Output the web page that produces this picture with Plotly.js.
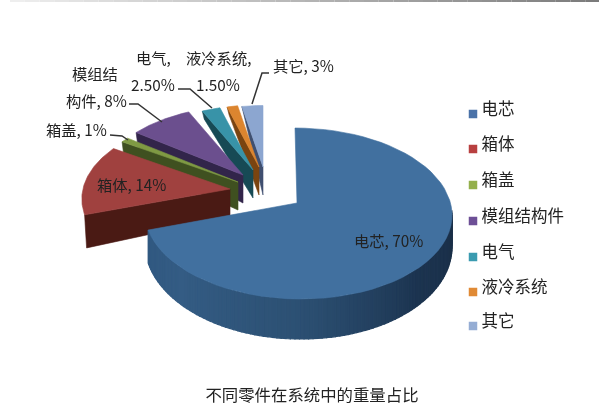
<!DOCTYPE html>
<html><head><meta charset="utf-8">
<script src="https://cdn.plot.ly/plotly-3.0.1.min.js"></script>
<style>html,body{margin:0;padding:0;background:#fff;overflow:hidden}#c{width:599px;height:417px;filter:blur(0.45px)}</style>
</head><body><div id="c"></div>
<script>
// data
const categories = ['电芯','箱体','箱盖','模组结构件','电气','液冷系统','其它'];
const shares = [70,14,1,8,2.5,1.5,3];
const chartTitle = '不同零件在系统中的重量占比';
// styles
const topColors  = ['#41709f','#a0413f','#7f9a43','#6b4f8e','#3893a8','#dc852f','#8ca6d0'];
const sideColors = ['#2f5a85','#4a1a14','#3f5020','#32254a','#174a55','#7a4410','#3f4f70'];
const keyColors  = ['#4a72a8','#b84040','#94b04c','#6d4f96','#3a9bb0','#e08a35','#95add4'];
// perspective pie geometry (pixels on the hidden axes)
const A=154,B=84.2,P=0.123;
const arcX=[298,230,238,243,253,259,263];
const apexX=[297,230,238,243,253,259,263];
const apexY=[203,189,182,175,170,167,167];
const scale=[0.99,0.955,0.95,0.92,0.86,0.83,0.82];
const skew=[3,0,0,0,0,0,0];
const rad=d=>d*Math.PI/180;
function proj(i,t){const c=Math.cos(rad(t)),s=Math.sin(rad(t)),w=1+P*c;
  return [arcX[i]+scale[i]*A*s/w-skew[i]*c, apexY[i]-(i===0?1:scale[i])*B*c/w, c];}
function depth(Y){return Y<0?30-10*Y:Math.max(8,28-22*Y);}
const total=shares.reduce((a,b)=>a+b,0);
let run=0;const from=[],to=[];
shares.forEach(v=>{from.push(run);run+=v/total*360;to.push(run);});
const traces=[];
function poly(xs,ys,col,w){traces.push({type:'scatter',mode:'lines',x:xs.concat(xs[0]),y:ys.concat(ys[0]),fill:'toself',fillcolor:col,
  line:{color:col,width:w===undefined?0.6:w},hoverinfo:'skip',showlegend:false});}
function topFace(i){const xs=[apexX[i]],ys=[apexY[i]];
  for(let k=0;k<=60;k++){const p=proj(i,from[i]+(to[i]-from[i])*k/60);xs.push(p[0]);ys.push(p[1]);}
  poly(xs,ys,topColors[i]);}
function cutSide(i){const p=proj(i,from[i]);const dO=depth(p[2]),dA=depth(0);
  poly([p[0],apexX[i],apexX[i],p[0]+2],[p[1],apexY[i],apexY[i]+dA,p[1]+dO],sideColors[i]);}
for(let i=6;i>=1;i--){cutSide(i);topFace(i);}
// main slice rim with shading along the arc
function mix(a,b,f){return 'rgb('+a.map((v,j)=>Math.round(v+(b[j]-v)*f)).join(',')+')';}
const rimStops=[[95,[26,46,70]],[135,[28,52,80]],[180,[44,80,115]],[225,[52,92,132]],[252,[48,88,128]]];
function rimColor(t){for(let k=1;k<rimStops.length;k++){if(t<=rimStops[k][0]){const a=rimStops[k-1],b=rimStops[k];
  return mix(a[1],b[1],Math.max(0,(t-a[0])/(b[0]-a[0])));}}return mix(rimStops[4][1],rimStops[4][1],0);}
for(let t=95;t<to[0];t+=1.5){const e=Math.min(t+1.5,to[0]);const p=proj(0,t),q=proj(0,e);
  poly([p[0],q[0],q[0],p[0]],[p[1],q[1],q[1]+depth(q[2]),p[1]+depth(p[2])],rimColor(t),1.2);}
topFace(0);
// key
const keyY=[114,149,185,221,257,292,326];
traces.push({type:'scatter',mode:'markers',x:categories.map(()=>473),y:keyY,marker:{symbol:'square',size:8.5,color:keyColors,line:{width:0}},hoverinfo:'skip',showlegend:false});
traces.push({type:'scatter',mode:'text',x:categories.map(()=>481.5),y:keyY.map(v=>v-3),text:categories,textposition:'middle right',
  textfont:{family:'"Noto Sans CJK SC"',size:16.5,color:'#222'},hoverinfo:'skip',showlegend:false});
// labels
const lab=(t,x,y)=>({text:t,x:x,y:y,xref:'x',yref:'y',showarrow:false,xanchor:'center',yanchor:'middle',
  font:{family:'"Noto Sans CJK SC"',size:15.3,color:'#222'}});
const pct=v=>v+'%';
const annotations=[
 lab(categories[0]+', '+pct(shares[0]),388,240),
 lab(categories[1]+', '+pct(shares[1]),131,184),
 lab(categories[2]+', '+pct(shares[2]),76,129),
 lab('模组结',95,73),
 lab('构件, '+pct(shares[3]),96,100),
 lab(categories[4]+',',153,57),
 lab(shares[4].toFixed(2)+'%',153,84),
 lab(categories[5]+',',218,57),
 lab(shares[5].toFixed(2)+'%',218,84),
 lab(categories[6]+', '+pct(shares[6]),303.5,65)
];
// leader lines
const leaders=['M110,135 L122,136 L128,140','M129,104 L138,104 L162,122','M178,89 L190,89 L212,108','M269,73 L262,73 L252,104'];
const shapes=leaders.map(d=>({type:'path',path:d,xref:'x',yref:'y',line:{color:'#333',width:1.5},layer:'above'}));
// grey strip along the top edge of the screenshot
for(let k=0;k<40;k++){const f=k/39,g=Math.round(238-f*115);
  shapes.push({type:'rect',xref:'x',yref:'y',x0:10+k*14.75,x1:10+(k+1)*14.75,y0:0,y1:2,line:{width:0},fillcolor:`rgb(${g},${g},${g})`});}
const ax={range:[0,599],visible:false,fixedrange:true};
Plotly.newPlot('c',traces,{
  width:599,height:417,margin:{l:0,r:0,t:0,b:0,pad:0},paper_bgcolor:'#fff',plot_bgcolor:'#fff',showlegend:false,
  title:{text:chartTitle,x:312/599,y:1-395/417,xanchor:'center',yanchor:'middle',font:{family:'"Noto Sans CJK SC"',size:16.4,color:'#222'}},
  xaxis:ax,yaxis:{range:[417,0],visible:false,fixedrange:true},annotations:annotations,shapes:shapes
},{displayModeBar:false,staticPlot:true});
</script></body></html>
